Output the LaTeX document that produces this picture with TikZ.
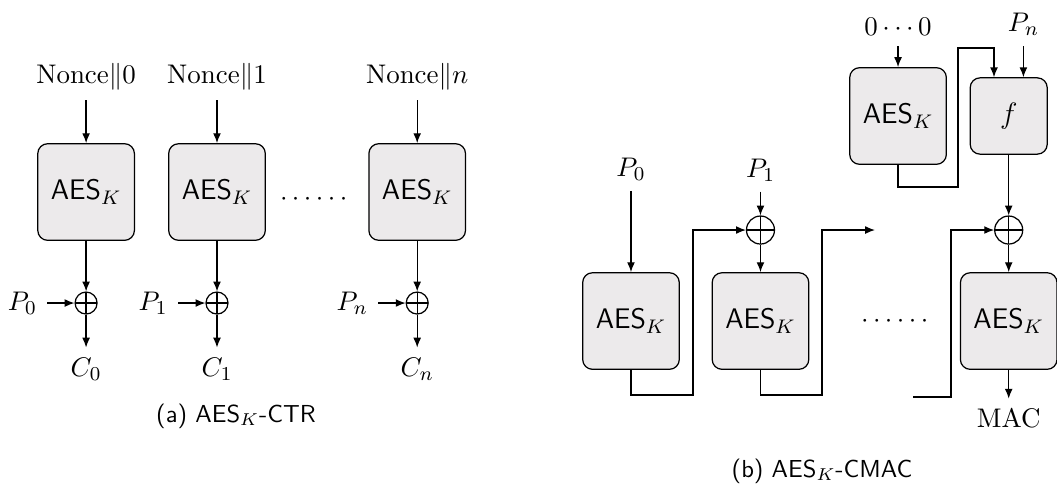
\documentclass[tikz,border=0pt]{standalone}
\usepackage{amsmath,amssymb}
\usepackage{xcolor}
\usepackage{tikz}
\usetikzlibrary{arrows.meta,positioning,calc}
\definecolor{boxgray}{HTML}{ECEAEB}

\begin{document}
\begin{tikzpicture}[>={Latex[length=4pt,width=3.2pt]},line width=0.5pt,
aes/.style={draw,rounded corners=4pt,fill=boxgray,minimum width=1.38cm,minimum height=1.38cm,font=\sffamily\fontsize{11.5}{14}\selectfont},
fbox/.style={aes,minimum width=1.1cm,minimum height=1.09cm},
xr/.style={circle,draw,inner sep=0pt,minimum size=#1,path picture={\draw (path picture bounding box.north)--(path picture bounding box.south) (path picture bounding box.west)--(path picture bounding box.east);}},
lab/.style={font=\fontsize{11.4}{13}\selectfont,inner sep=4pt},
captext/.style={font=\sffamily\fontsize{10}{12}\selectfont}]
\useasboundingbox (0,0) rectangle (15.1,-6.914);
% (a) CTR
\foreach \i/\x/\s in {0/1.23/0,1/3.1/1,2/5.96/n}{
\node[aes] (a\i) at (\x,-2.743) {AES$_K$};
\node[lab,above=0.61cm of a\i] (n\i) {$\mathrm{Nonce}\|\s$};
\node[xr=0.314cm] (x\i) at (\x,-4.329) {};
\node[lab,left=0.39cm of x\i] (p\i) {$P_\s$};
\node[lab,below=0.47cm of x\i] (c\i) {$C_\s$};
\draw[->] (n\i)--(a\i);
\draw[->] (a\i)--(x\i);
\draw[->] (p\i)--(x\i);
\draw[->] (x\i)--(c\i);
}
\node[lab] (d1) at (4.514,-2.857) {$\cdots\cdots$};
\node[captext] (ca) at (3.371,-5.943) {(a) AES$_K$-CTR};
% (b) CMAC
\node[aes] (b0) at (9.014,-4.586) {AES$_K$};
\node[aes] (b1) at (10.864,-4.586) {AES$_K$};
\node[aes] (b2) at (14.41,-4.586) {AES$_K$};
\node[aes] (t0) at (12.829,-1.657) {AES$_K$};
\node[fbox] (f) at (14.41,-1.657) {$f$};
\node[xr=0.4cm] (y1) at (10.864,-3.286) {};
\node[xr=0.4cm] (y2) at (14.41,-3.286) {};
\node[lab,above=1.16cm of b0] (q0) {$P_0$};
\node[lab,above=0.34cm of y1] (q1) {$P_1$};
\node[lab,above=0.3cm of t0] (z0) {$0\cdots0$};
\coordinate (fi0) at ([xshift=-0.21cm]f.north);
\coordinate (fi1) at ([xshift=0.21cm]f.north);
\node[lab,above=0.44cm of fi1] (qn) {$P_n$};
\node[lab,below=0.41cm of b2] (mac) {$\mathrm{MAC}$};
\node[lab] (d2) at (12.814,-4.586) {$\cdots\cdots$};
\node[captext] (cb) at (11.743,-6.729) {(b) AES$_K$-CMAC};
\coordinate (r0) at (9.9,-5.643);
\coordinate (r1) at (11.743,-5.643);
\coordinate (e1) at (12.5,-3.286);
\coordinate (s2) at (13.043,-5.671);
\coordinate (r2) at (13.586,-5.671);
\coordinate (r3) at (13.686,-2.671);
\coordinate (r4) at (13.686,-0.686);
\draw[->] (q0)--(b0);
\draw[->] (q1)--(y1);
\draw[->] (y1)--(b1);
\draw[->] (b0.south)|-(r0)|-(y1.west);
\draw[->] (b1.south)|-(r1)|-(e1);
\draw[->] (s2)--(r2)|-(y2.west);
\draw[->] (z0)--(t0);
\draw[->] (t0.south)|-(r3)--(r4)-|(fi0);
\draw[->] (qn)--(fi1);
\draw[->] (f)--(y2);
\draw[->] (y2)--(b2);
\draw[->] (b2)--(mac);
\end{tikzpicture}
\end{document}
